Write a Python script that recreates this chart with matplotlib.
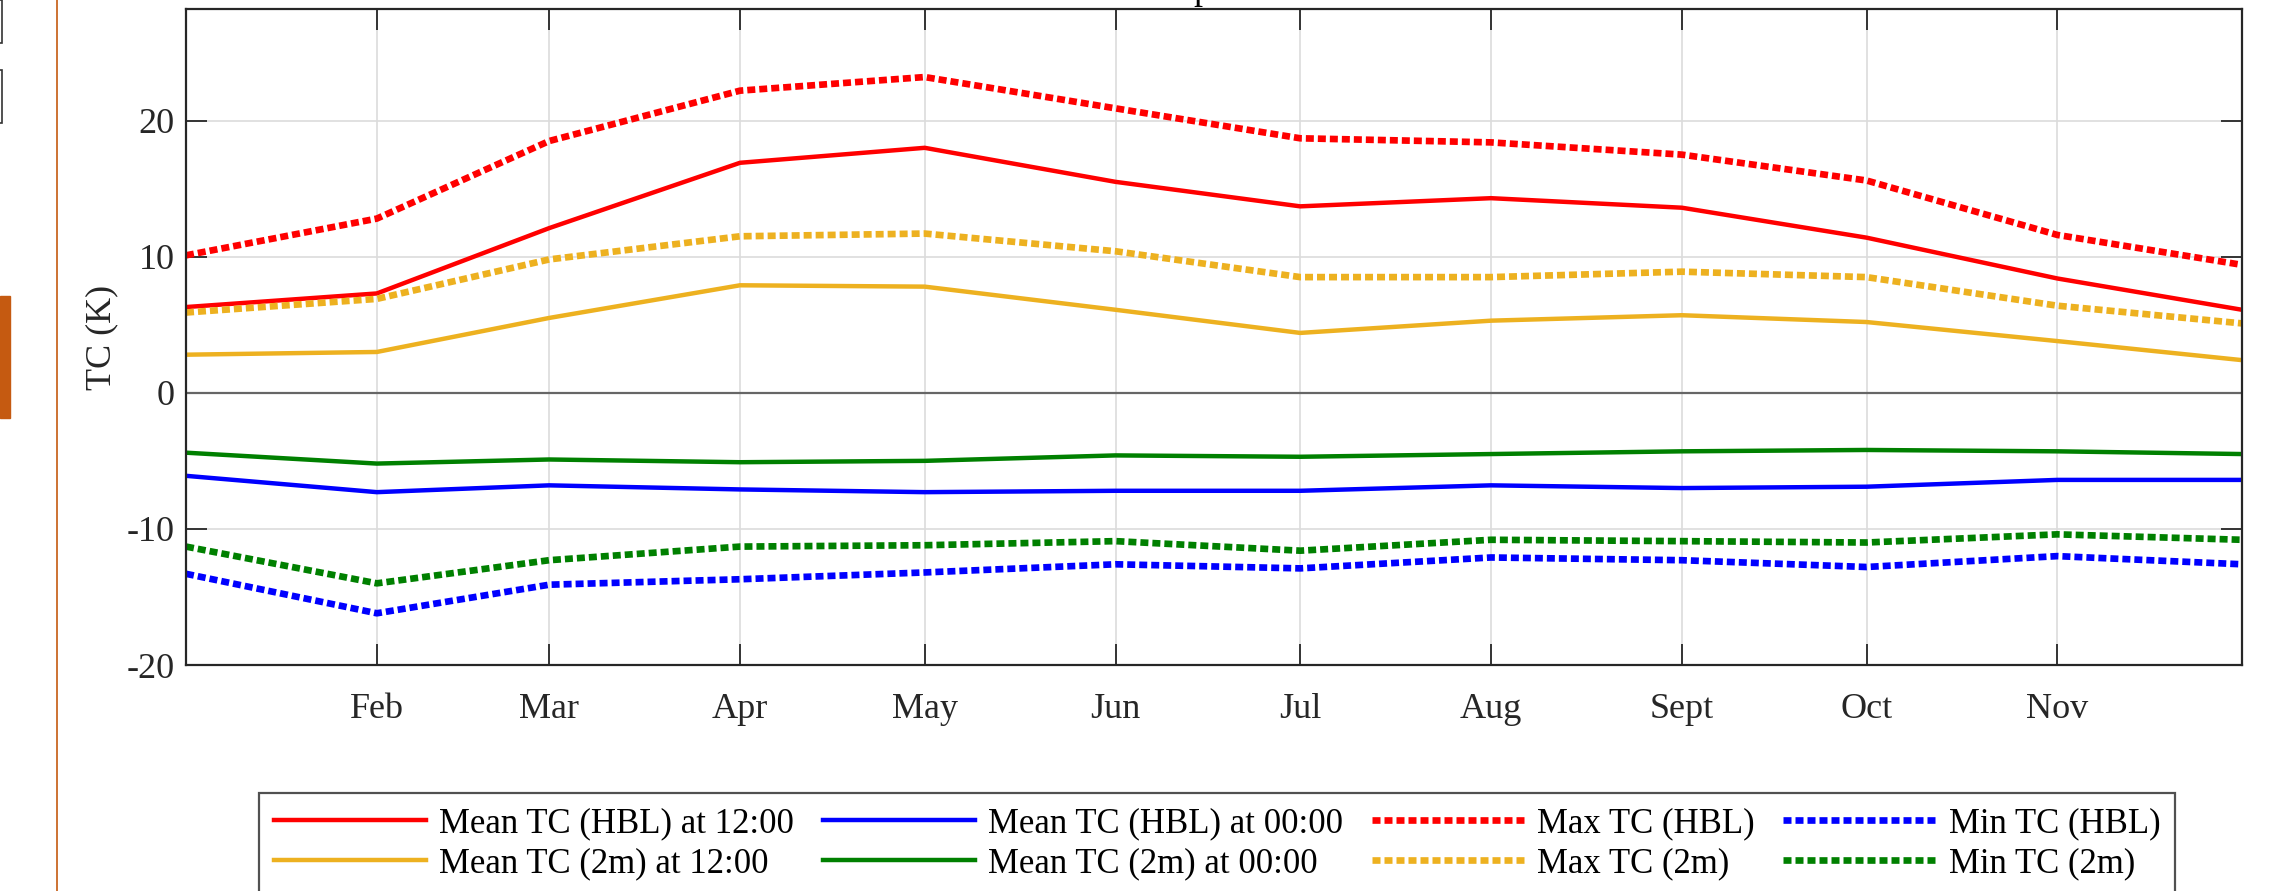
#!/usr/bin/env python3

import numpy as np
import matplotlib
matplotlib.use('Agg')
import matplotlib.pyplot as plt
from matplotlib.patches import Rectangle

# first day of each month, where the monthly values are drawn
month_starts = np.array(['2021-01-01', '2021-02-01', '2021-03-01', '2021-04-01',
                         '2021-05-01', '2021-06-01', '2021-07-01', '2021-08-01',
                         '2021-09-01', '2021-10-01', '2021-11-01', '2021-12-01'],
                        dtype='datetime64[D]')
tick_labels = ['Feb', 'Mar', 'Apr', 'May', 'Jun', 'Jul', 'Aug', 'Sept', 'Oct', 'Nov']

mean_hbl_12 = [6.3, 7.3, 12.1, 16.9, 18.0, 15.5, 13.7, 14.3, 13.6, 11.4, 8.4, 6.1]
mean_2m_12 = [2.8, 3.0, 5.5, 7.9, 7.8, 6.1, 4.4, 5.3, 5.7, 5.2, 3.8, 2.4]
mean_hbl_00 = [-6.1, -7.3, -6.8, -7.1, -7.3, -7.2, -7.2, -6.8, -7.0, -6.9, -6.4, -6.4]
mean_2m_00 = [-4.4, -5.2, -4.9, -5.1, -5.0, -4.6, -4.7, -4.5, -4.3, -4.2, -4.3, -4.5]
max_hbl = [10.1, 12.8, 18.5, 22.2, 23.2, 20.9, 18.7, 18.4, 17.5, 15.6, 11.6, 9.4]
max_2m = [5.9, 6.9, 9.8, 11.5, 11.7, 10.4, 8.5, 8.5, 8.9, 8.5, 6.4, 5.1]
min_hbl = [-13.3, -16.2, -14.1, -13.7, -13.2, -12.6, -12.9, -12.1, -12.3, -12.8, -12.0, -12.6]
min_2m = [-11.3, -14.0, -12.3, -11.3, -11.2, -10.9, -11.6, -10.8, -10.9, -11.0, -10.4, -10.8]

RED = '#FF0000'
BLUE = '#0000FF'
GREEN = '#008000'
YELLOW = '#EDB120'
ORANGE = '#C55A11'
INK = '#262626'

plt.rcParams['font.family'] = ['Liberation Serif', 'DejaVu Serif']
plt.rcParams['font.size'] = 26

W, H = 2275, 891
fig = plt.figure(figsize=(W / 100, H / 100), dpi=100)
ax = fig.add_axes([186 / W, 1 - 665 / H, (2242 - 186) / W, (665 - 9) / H])

solid = dict(linewidth=3.2, solid_joinstyle='miter')
dotted = dict(linewidth=4.8, linestyle=(0, (1.2, 0.6)), dash_capstyle='butt')

ax.plot(month_starts, mean_hbl_12, color=RED, label='Mean TC (HBL) at 12:00', **solid)
ax.plot(month_starts, mean_2m_12, color=YELLOW, label='Mean TC (2m) at 12:00', **solid)
ax.plot(month_starts, mean_hbl_00, color=BLUE, label='Mean TC (HBL) at 00:00', **solid)
ax.plot(month_starts, mean_2m_00, color=GREEN, label='Mean TC (2m) at 00:00', **solid)
ax.plot(month_starts, max_hbl, color=RED, label='Max TC (HBL)', **dotted)
ax.plot(month_starts, max_2m, color=YELLOW, label='Max TC (2m)', **dotted)
ax.plot(month_starts, min_hbl, color=BLUE, label='Min TC (HBL)', **dotted)
ax.plot(month_starts, min_2m, color=GREEN, label='Min TC (2m)', **dotted)

ax.axhline(0, color='#666666', linewidth=1.6, zorder=1)

ax.set_xlim(month_starts[0], month_starts[-1])
ax.set_ylim(-20, 28.2)
ax.set_xticks(month_starts[1:-1])
ax.set_xticklabels(tick_labels)
ax.set_yticks([-20, -10, 0, 10, 20])
ax.set_yticklabels(['-20', '-10', '0', '10', '20'])

ax.grid(True, color='#dcdcdc', linewidth=1.2)
ax.set_axisbelow(True)
ax.tick_params(axis='both', direction='in', length=14.8, width=1.3, color=INK,
               top=True, right=True, labelcolor=INK)
ax.tick_params(axis='x', pad=20)
ax.tick_params(axis='y', pad=8)
for sp in ax.spines.values():
    sp.set_color(INK)
    sp.set_linewidth(1.6)

ax.set_ylabel('TC (K)', color=INK, labelpad=6)

leg = fig.legend(loc='upper left', bbox_to_anchor=(259 / W, 1 - 793 / H), ncol=4,
                 frameon=True, fancybox=False, borderaxespad=0, handlelength=4.4,
                 handletextpad=0.37, columnspacing=0.82, labelspacing=0.18,
                 borderpad=0.42, fontsize=25)
leg.get_frame().set_edgecolor(INK)
leg.get_frame().set_linewidth(1.6)
for t in leg.get_texts():
    t.set_color('black')

# bits of the surrounding page that show in the crop
fig.add_artist(plt.Line2D([57 / W, 57 / W], [0, 1], color=ORANGE, linewidth=1.2))
fig.add_artist(Rectangle((0, 1 - 418 / H), 10 / W, 122 / H, color=ORANGE))
fig.add_artist(Rectangle((-5 / W, 1 - 43 / H), 7 / W, 43 / H, fill=False,
                         edgecolor='#333333', linewidth=1.2))
fig.add_artist(Rectangle((-5 / W, 1 - 123 / H), 7 / W, 53 / H, fill=False,
                         edgecolor='#333333', linewidth=1.2))
fig.text(1202 / W, 1 + 1 / H, 'p', ha='center', va='baseline', fontsize=26)

fig.savefig('out.png', dpi=100)
